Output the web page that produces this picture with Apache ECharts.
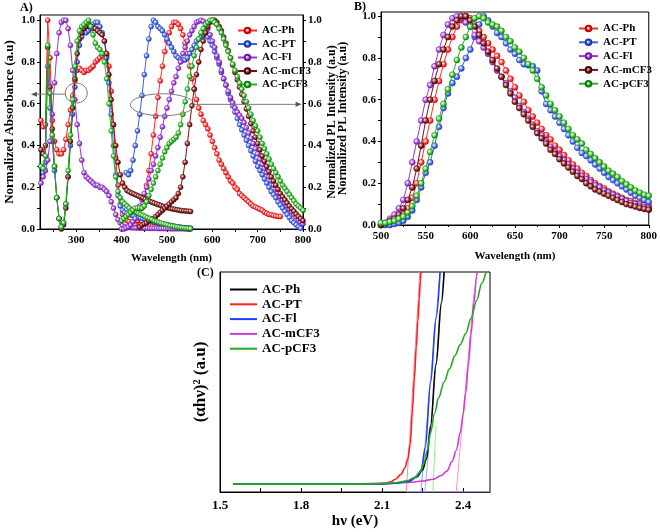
<!DOCTYPE html>
<html><head><meta charset="utf-8">
<script src="https://cdn.jsdelivr.net/npm/echarts@6/dist/echarts.min.js"></script>
<style>html,body{margin:0;padding:0;background:#fff}
.p{position:absolute;left:0;top:0;width:660px;height:532px}</style>
</head><body>
<div id="pa" class="p"></div><div id="pb" class="p"></div><div id="pc" class="p"></div>
<script>
// ---------- data ----------
const names = ['AC-Ph','AC-PT','AC-Fl','AC-mCF3','AC-pCF3'];

// Panel A: absorbance
const absX = [222,227,232,237,242,247,252,257,262,267,272,277,282,287,292,297,302,307,312,317,322,327,332,337,342,347,352,357,362,367,372,377,382,387,392,397,402,407,412,417,422,427,432,437,442,447,452,457,462,467,472,477,482,487,492,497,502,507,512,517,522,527,532,537,542,547,552];
const absPh = [.52,.49,.50,1.0,.82,.52,.42,.38,.36,.36, .38,.43,.50,.57,.64,.71,.76,.77,.76,.75, .76,.76,.77,.78,.80,.81,.82,.83,.84,.83, .78,.66,.50,.34,.21,.12,.07,.05,.04,.035, .03,.028,.025,.022,.02,.018,.016,.015,.014,.013, .012,.011,.01,.01,.009,.009,.008,.008,.007,.007, .006,.006,.005,.005,.005,.004,.004];
const absPT = [.30,.27,.32,.78,.58,.42,.28,.15,.05,.01, .03,.12,.25,.40,.55,.68,.80,.88,.92,.94, .94,.95,.96,.98,.99,.99,.97,.94,.90,.82, .70,.55,.40,.26,.16,.11,.09,.08,.075,.07, .066,.062,.058,.055,.052,.049,.046,.043,.04,.037, .034,.031,.028,.025,.023,.021,.019,.017,.015,.013, .011,.009,.008,.006,.005,.004,.003];
const absFl = [.22,.25,.28,.33,.42,.55,.70,.84,.94,.99, 1.0,1.0,.96,.88,.76,.62,.50,.41,.33,.27, .25,.24,.23,.22,.21,.21,.20,.20,.19,.18, .16,.13,.10,.07,.045,.03,.015,.01,.008,.007, .006,.006,.005,.005,.005,.004,.004,.004,.003,.003, .003,.003,.002,.002,.002,.002,.002,.001,.001,.001, .001,.001,.001,.001,0,0,0];
const absMCF3 = [.38,.36,.40,.87,.68,.48,.30,.15,.05,.0, .02,.10,.25,.42,.58,.72,.84,.91,.94,.96, .97,.98,.97,.96,.96,.95,.94,.93,.90,.84, .74,.62,.50,.40,.32,.26,.22,.20,.185,.178, .172,.168,.163,.158,.153,.148,.143,.138,.133,.128, .124,.12,.116,.112,.108,.105,.102,.099,.096,.094, .092,.09,.088,.087,.086,.085,.084];
const absPCF3 = [.30,.29,.35,.88,.65,.45,.30,.15,.05,.01, .03,.12,.28,.45,.62,.78,.90,.95,.97,.98, .99,1.0,.97,.93,.89,.87,.86,.84,.80,.72, .60,.47,.35,.25,.18,.15,.13,.12,.11,.10, .09,.085,.08,.075,.07,.065,.06,.055,.05,.045, .04,.036,.032,.028,.025,.022,.019,.016,.014,.012, .01,.008,.006,.005,.004,.003,.002];

// Panel A: photoluminescence
const plX = [400,405,410,415,420,425,430,435,440,445,450,455,460,465,470,475,480,485,490,495,500,505,510,515,520,525,530,535,540,545,550,555,560,565,570,575,580,585,590,595,600,605,610,615,620,625,630,635,640,645,650,655,660,665,670,675,680,685,690,695,700,705,710,715,720,725,730,735,740,745,750,755,760,765,770,775,780,785,790,795,800];
const plPh = [null,null,null,null,null,.01,.02,.04,.06,.10, .15,.21,.28,.36,.45,.54,.63,.71,.78,.85, .90,.94,.97,.99,.99,.98,.96,.93,.89,.84, .78,.72,.67,.62,.58,.55,.52,.50,.48,.45, .42,.39,.36,.33,.31,.29,.27,.25,.23,.22, .20,.19,.17,.16,.15,.14,.13,.12,.11,.105, .10,.095,.09,.08,.075,.07,.068,.065,.062,.06, .06,null,null,null,null,null,null,null,null,null, null];
const plPT = [null,null,.27,.26,.28,.33,.40,.47,.55,.64, .74,.83,.91,.97,1.0,.99,.97,.96,.95,.93, .91,.89,.87,.85,.83,.82,.81,.81,.81,.82, .84,.86,.88,.90,.91,.92,.93,.93,.92,.90, .88,.85,.82,.79,.75,.72,.69,.65,.62,.59, .56,.53,.50,.475,.45,.425,.40,.375,.35,.325, .30,.28,.26,.24,.22,.20,.18,.165,.15,.13, .115,.10,.085,.07,.055,.04,.03,.02,.01,.003, null];
const plFl = [0,0,.005,.01,.02,.035,.05,.08,.11,.14, .17,.20,.24,.28,.31,.35,.39,.44,.49,.54, .58,.62,.66,.70,.73,.77,.80,.84,.87,.90, .93,.95,.97,.99,.995,1.0,.995,.98,.96,.93, .90,.87,.83,.80,.76,.72,.69,.66,.63,.605, .58,.56,.545,.53,.51,.485,.46,.435,.41,.385, .36,.335,.31,.29,.27,.25,.23,.21,.19,.172, .155,.14,.125,.11,.095,.082,.07,.057,.045,.035, .025];
const plMCF3 = [null,null,null,null,null,null,null,null,.01,.02, .025,.03,.04,.045,.05,.06,.07,.08,.09,.10, .11,.12,.13,.14,.15,.17,.20,.25,.32,.41, .50,.59,.67,.74,.80,.86,.90,.94,.97,.99, 1.0,1.0,.99,.97,.95,.92,.89,.855,.82,.785, .75,.715,.68,.645,.61,.575,.54,.505,.47,.44, .41,.38,.35,.325,.30,.275,.25,.23,.21,.19, .17,.155,.14,.125,.11,.097,.085,.072,.06,.05, .04];
const plPCF3 = [.04,.05,.06,.07,.08,.09,.10,.10,.10,.10, .11,.13,.16,.19,.22,.25,.28,.31,.34,.37, .39,.41,.42,.43,.44,.46,.50,.55,.61,.67, .73,.78,.83,.87,.91,.94,.96,.98,.99,1.0, 1.0,.99,.98,.96,.94,.91,.88,.85,.82,.79, .76,.73,.70,.67,.64,.61,.58,.55,.52,.495, .47,.44,.41,.385,.36,.335,.31,.29,.27,.25, .23,.21,.195,.18,.165,.15,.135,.12,.11,.10, .09];

// Panel B: photoluminescence
const bX = [500,505,510,515,520,525,530,535,540,545,550,555,560,565,570,575,580,585,590,595,600,605,610,615,620,625,630,635,640,645,650,655,660,665,670,675,680,685,690,695,700,705,710,715,720,725,730,735,740,745,750,755,760,765,770,775,780,785,790,795,800];
const bPh = [0,.005,.01,.02,.03,.05,.08,.13,.20,.30, .40,.50,.60,.69,.77,.84,.90,.95,.98,1.0, .99,.96,.93,.90,.87,.84,.81,.78,.74,.70, .66,.62,.59,.55,.52,.49,.46,.43,.41,.38, .36,.335,.31,.29,.27,.25,.235,.215,.20,.185, .175,.16,.15,.14,.13,.12,.115,.105,.10,.095, .09];
const bPT = [0,0,0,.005,.01,.02,.04,.07,.12,.18, .25,.30,.38,.47,.56,.63,.68,.71,.75,.80, .84,.90,.96,1.0,.98,.95,.92,.90,.87,.84, .82,.79,.77,.765,.76,.74,.64,.58,.55,.52, .49,.46,.43,.40,.37,.345,.33,.31,.29,.27, .25,.23,.215,.20,.185,.17,.155,.14,.13,.12, .11];
const bFl = [0,.01,.03,.05,.08,.12,.20,.30,.40,.50, .60,.67,.76,.84,.91,.96,.99,1.0,.99,.97, .95,.91,.88,.85,.82,.78,.74,.71,.68,.64, .61,.57,.54,.51,.48,.45,.43,.40,.375,.35, .33,.31,.29,.27,.25,.235,.22,.205,.19,.18, .165,.155,.145,.135,.125,.115,.105,.10,.09,.085, .08];
const bMCF3 = [0,.01,.02,.03,.05,.08,.12,.18,.27,.38, .50,.60,.69,.77,.84,.90,.95,.98,1.0,1.0, .98,.95,.91,.87,.83,.79,.75,.71,.67,.63, .59,.56,.53,.50,.47,.44,.415,.39,.36,.34, .315,.295,.275,.255,.235,.22,.20,.185,.17,.16, .15,.14,.13,.12,.11,.10,.095,.088,.082,.077, .073];
const bPCF3 = [.01,.01,.015,.02,.03,.04,.06,.09,.14,.20, .27,.35,.43,.51,.58,.65,.72,.79,.85,.90, .95,.99,1.0,.99,.97,.96,.95,.93,.90,.88, .85,.83,.80,.77,.74,.70,.66,.62,.58,.55, .52,.49,.46,.43,.41,.39,.36,.34,.32,.30, .28,.26,.245,.23,.21,.195,.18,.165,.155,.145, .14];

// Panel C: Tauc plots (hv in eV, arbitrary units)
const cPhX = [1.55,1.8,2.0,2.1,2.15,2.2,2.23,2.25,2.265,2.28,2.3,2.32,2.33];
const cPhY = [.036,.036,.036,.037,.04,.05,.07,.10,.15,.30,.58,.86,1.0];
const cPTX = [1.55,1.8,2.0,2.08,2.11,2.13,2.15,2.17,2.185,2.195,2.205,2.213,2.22,2.227,2.233,2.238,2.242,2.244];
const cPTY = [.036,.036,.036,.037,.04,.045,.058,.08,.11,.15,.22,.38,.52,.66,.78,.88,.96,1.0];
const cFlX = [1.55,1.8,2.0,2.1,2.15,2.2,2.23,2.245,2.26,2.28,2.3,2.315];
const cFlY = [.036,.036,.036,.037,.04,.048,.07,.10,.20,.50,.79,1.0];
const cMX = [1.55,1.8,2.0,2.1,2.2,2.25,2.29,2.32,2.34,2.36,2.375,2.39,2.4,2.41,2.42,2.43,2.44,2.45,2.452];
const cMY = [.036,.036,.037,.039,.043,.05,.058,.075,.095,.14,.19,.27,.35,.45,.58,.72,.86,.98,1.0];
const cPX = [1.55,1.8,2.0,2.1,2.15,2.19,2.22,2.24,2.255,2.268,2.28,2.295,2.31,2.33,2.35,2.37,2.39,2.41,2.43,2.45,2.47,2.485];
const cPY = [.036,.036,.036,.038,.042,.05,.065,.09,.13,.19,.27,.36,.43,.50,.56,.62,.67,.72,.79,.87,.95,1.0];
// linear fits (extrapolated band-gap lines)
const fitPT = [[2.19,0],[2.24,1.0]];
const fitFl = [[2.244,0],[2.315,1.0]];
const fitPh = [[2.259,0],[2.33,1.0]];
const fitP = [[2.288,0],[2.30,0.3]];
const fitM = [[2.375,0],[2.44,0.9]];
const fitBase = [[2.19,0],[2.5,0]];

// tick labels
const xTickA = [250,300,350,400,450,500,550,600,650,700,750,800];
const xLabA = [300,400,500,600,700,800];
const yLab = [0,0.2,0.4,0.6,0.8,1.0];
const yTick = [0,0.1,0.2,0.3,0.4,0.5,0.6,0.7,0.8,0.9,1.0];
const xLabC = [1.5,1.8,2.1,2.4];
const xTickC = [1.5,1.65,1.8,1.95,2.1,2.25,2.4];

// ---------- style ----------
const F = 'Liberation Serif';
function ts(s){return {fontFamily:F,fontWeight:'bold',fontSize:s,color:'#000'};}
const COL = ['#ff2a2a','#3c5fe6','#9a34d8','#7a1212','#22b522'];
const LIGHT = ['#ffb4b4','#b4c4ff','#dcb0f4','#c88888','#b4f0a4'];
const DARK = ['#c80000','#1a38b0','#6a1aa0','#4a0000','#0f7a0f'];
const CCOL = ['#000000','#ff1f1f','#1f3dff','#d23ad2','#1faa1f'];
function ball(i){return {color:{type:'radial',x:0.38,y:0.38,r:0.62,colorStops:[{offset:0,color:'#ffffff'},{offset:0.25,color:LIGHT[i]},{offset:0.7,color:COL[i]},{offset:1,color:DARK[i]}]},borderColor:DARK[i],borderWidth:0.5};}
function pts(xs,ys){return xs.map((x,i)=>[x,ys[i]]);}
function mk(name,i,xs,ys,yi,size){return {type:'line',name,yAxisIndex:yi,data:pts(xs,ys),symbol:'circle',symbolSize:size,showSymbol:true,lineStyle:{color:COL[i],width:1},itemStyle:ball(i),emphasis:{disabled:true},z:2+i};}
const axLine = {show:true,lineStyle:{color:'#000',width:1}};
const tickSt = {color:'#000',width:1};
const fmt1 = v=>Number(v).toFixed(1);

// ---------- Panel A ----------
const ca = echarts.init(document.getElementById('pa'));
const absSets = [absPh,absPT,absFl,absMCF3,absPCF3];
const plSets = [plPh,plPT,plFl,plMCF3,plPCF3];
const seriesA = [];
absSets.forEach((d,i)=>seriesA.push(mk(names[i],i,absX,d,0,5)));
plSets.forEach((d,i)=>seriesA.push(mk(names[i],i,plX,d,1,5)));
ca.setOption({
  animation:false, backgroundColor:'#fff',
  grid:{left:40,top:15,width:263,height:214,show:true,borderColor:'#000',borderWidth:1,backgroundColor:'transparent'},
  xAxis:{type:'value',min:220,max:800,axisLine:axLine,splitLine:{show:false},
    axisTick:{show:true,length:3,customValues:xTickA,lineStyle:tickSt},
    axisLabel:{customValues:xLabA,margin:6,...ts(11)},
    name:'Wavelength (nm)',nameLocation:'middle',nameGap:24,nameTextStyle:ts(11)},
  yAxis:[
    {type:'value',min:0,max:1.025,position:'left',axisLine:axLine,splitLine:{show:false},
     axisTick:{show:true,length:3,customValues:yTick,lineStyle:tickSt},
     axisLabel:{customValues:yLab,formatter:fmt1,margin:5,...ts(11)},
     name:'Normalized Absorbance (a.u)',nameLocation:'middle',nameRotate:90,nameGap:24,nameTextStyle:ts(13)},
    {type:'value',min:0,max:1.025,position:'right',axisLine:axLine,splitLine:{show:false},
     axisTick:{show:true,length:3,customValues:yTick,lineStyle:tickSt},
     axisLabel:{customValues:yLab,formatter:fmt1,margin:5,...ts(11)},
     name:'Normalized PL Intensity (a.u)',nameLocation:'middle',nameRotate:90,nameGap:22,nameTextStyle:ts(12)}
  ],
  legend:{left:232,top:20,orient:'vertical',itemWidth:19,itemHeight:7,itemGap:2.5,selectedMode:false,textStyle:ts(11),data:names},
  series:seriesA
});
// annotations (ellipses with arrows) anchored in data units
const annoCircle = [300,0.651], annoLeftEnd = [200,0.646];
const annoEllipse = [490,0.595], annoRightEnd = [797,0.597];
const p1 = ca.convertToPixel({xAxisIndex:0,yAxisIndex:0},annoCircle);
const p1e = ca.convertToPixel({xAxisIndex:0,yAxisIndex:0},annoLeftEnd);
const p2 = ca.convertToPixel({xAxisIndex:0,yAxisIndex:0},annoEllipse);
const p2e = ca.convertToPixel({xAxisIndex:0,yAxisIndex:0},annoRightEnd);
const g = '#7a7a7a';
ca.setOption({graphic:[
  {type:'text',left:20,top:2,style:{text:'A)',font:'bold 12px "Liberation Serif"',fill:'#000'}},
  {type:'ellipse',shape:{cx:p1[0],cy:p1[1],rx:11,ry:10},style:{fill:'none',stroke:g,lineWidth:1},z:100},
  {type:'line',shape:{x1:p1[0]-11,y1:p1e[1],x2:p1e[0]+5,y2:p1e[1]},style:{stroke:g,lineWidth:1},z:100},
  {type:'polygon',shape:{points:[[p1e[0],p1e[1]],[p1e[0]+6,p1e[1]-2.5],[p1e[0]+6,p1e[1]+2.5]]},style:{fill:'#555'},z:100},
  {type:'ellipse',shape:{cx:p2[0],cy:p2[1],rx:32,ry:11},style:{fill:'none',stroke:g,lineWidth:1},z:100},
  {type:'line',shape:{x1:p2[0]+32,y1:p2e[1],x2:p2e[0]-5,y2:p2e[1]},style:{stroke:g,lineWidth:1},z:100},
  {type:'polygon',shape:{points:[[p2e[0],p2e[1]],[p2e[0]-6,p2e[1]-2.5],[p2e[0]-6,p2e[1]+2.5]]},style:{fill:'#555'},z:100}
]});

// ---------- Panel B ----------
const cb = echarts.init(document.getElementById('pb'));
const bSets = [bPh,bPT,bFl,bMCF3,bPCF3];
cb.setOption({
  animation:false,
  grid:{left:381,top:12,width:269,height:213,show:true,borderColor:'#000',borderWidth:1,backgroundColor:'transparent'},
  xAxis:{type:'value',min:500,max:800,interval:50,axisLine:axLine,splitLine:{show:false},
    axisTick:{show:true,length:3,lineStyle:tickSt},minorTick:{show:true,splitNumber:2,length:2,lineStyle:tickSt},
    axisLabel:{margin:6,...ts(11)},
    name:'Wavelength (nm)',nameLocation:'middle',nameGap:26,nameTextStyle:ts(11)},
  yAxis:{type:'value',min:0,max:1.02,axisLine:axLine,splitLine:{show:false},
    axisTick:{show:true,length:3,customValues:yTick,lineStyle:tickSt},
    axisLabel:{customValues:yLab,formatter:fmt1,margin:5,...ts(11)},
    name:'Normalized PL Intensity (a.u)',nameLocation:'middle',nameRotate:90,nameGap:32,nameTextStyle:ts(12)},
  legend:{left:573,top:18,orient:'vertical',itemWidth:19,itemHeight:7,itemGap:2.8,selectedMode:false,textStyle:ts(11),data:names},
  graphic:[{type:'text',left:354,top:1,style:{text:'B)',font:'bold 12px "Liberation Serif"',fill:'#000'}}],
  series:bSets.map((d,i)=>mk(names[i],i,bX,d,0,6))
});

// ---------- Panel C ----------
const cc = echarts.init(document.getElementById('pc'));
function cl(name,color,data,w,z){return {type:'line',name,data,symbol:'none',smooth:0.35,smoothMonotone:'x',lineStyle:{color,width:w},itemStyle:{color},emphasis:{disabled:true},z};}
function fl(name,color,data){return {type:'line',name,data,symbol:'none',lineStyle:{color,width:1},emphasis:{disabled:true},z:1};}
cc.setOption({
  animation:false,
  grid:{left:220,top:272,width:270,height:220,show:true,borderColor:'#000',borderWidth:1,backgroundColor:'transparent'},
  xAxis:{type:'value',min:1.5,max:2.5,axisLine:axLine,splitLine:{show:false},
    axisTick:{show:true,inside:true,length:4,customValues:xTickC,lineStyle:tickSt},
    axisLabel:{customValues:xLabC,formatter:fmt1,margin:7,...ts(13)},
    name:'hν (eV)',nameLocation:'middle',nameGap:22,nameTextStyle:ts(15)},
  yAxis:{type:'value',min:0,max:1,axisLine:axLine,splitLine:{show:false},axisTick:{show:false},axisLabel:{show:false},
    name:'(αhν)² (a.u)',nameLocation:'middle',nameRotate:90,nameGap:11,nameTextStyle:ts(17)},
  legend:{left:225,top:278,orient:'vertical',icon:'rect',itemWidth:27,itemHeight:2,itemGap:1.8,selectedMode:false,textStyle:ts(13),data:names},
  graphic:[{type:'text',left:197,top:267,style:{text:'(C)',font:'bold 12px "Liberation Serif"',fill:'#000'}}],
  series:[
    fl('fitBase','#b8b0ff',fitBase),
    fl('fitPT','#ff8aa0',fitPT),
    fl('fitFl','#8a9aff',fitFl),
    fl('fitPh','#a8a8ff',fitPh),
    fl('fitP','#90f080',fitP),
    fl('fitM','#ff90c8',fitM),
    cl(names[0],CCOL[0],pts(cPhX,cPhY),1.6,3),
    cl(names[1],CCOL[1],pts(cPTX,cPTY),1.6,3),
    cl(names[2],CCOL[2],pts(cFlX,cFlY),1.6,4),
    cl(names[3],CCOL[3],pts(cMX,cMY),1.6,3),
    cl(names[4],CCOL[4],pts(cPX,cPY),1.6,5)
  ]
});
</script>
</body></html>
